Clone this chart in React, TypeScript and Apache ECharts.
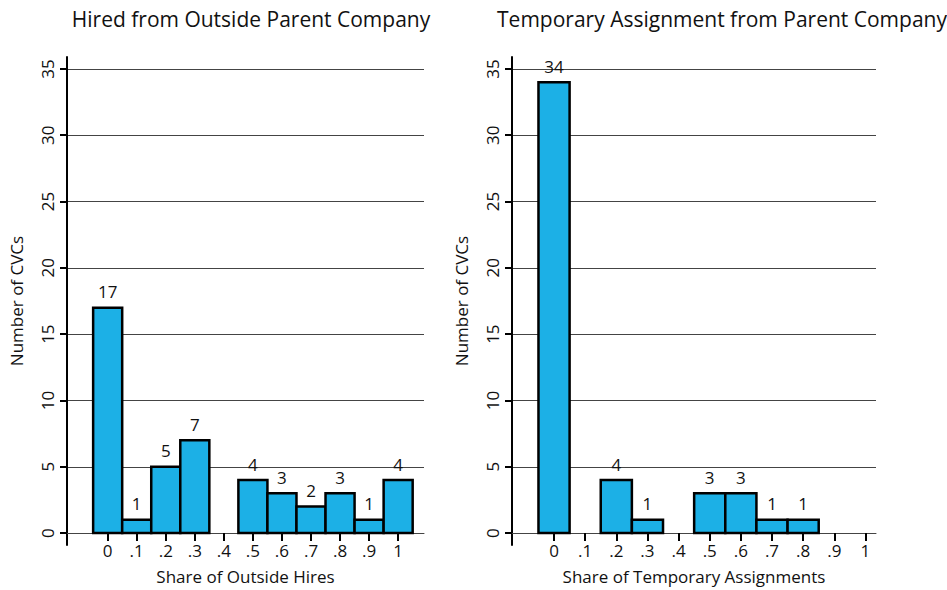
import React, { useEffect, useRef } from "react";
import * as echarts from "echarts";

const leftTitle = "Hired from Outside Parent Company";
const rightTitle = "Temporary Assignment from Parent Company";
const leftXName = "Share of Outside Hires";
const rightXName = "Share of Temporary Assignments";
const yName = "Number of CVCs";

const leftBins = [0, 0.1, 0.2, 0.3, 0.5, 0.6, 0.7, 0.8, 0.9, 1];
const leftCounts = [17, 1, 5, 7, 4, 3, 2, 3, 1, 4];
const rightBins = [0, 0.2, 0.3, 0.5, 0.6, 0.7, 0.8];
const rightCounts = [34, 4, 1, 3, 3, 1, 1];

const yTicks = [0, 5, 10, 15, 20, 25, 30, 35];
const xTicks = [0, 0.1, 0.2, 0.3, 0.4, 0.5, 0.6, 0.7, 0.8, 0.9, 1];
const binWidth = 0.1;

const FONT = "Open Sans";
const TEXT = "#111";
const BAR = "#1cb0e6";
const FS = 17;

function fmtX(v: number) {
  if (Math.abs(v) < 1e-9) return "0";
  if (Math.abs(v - 1) < 1e-9) return "1";
  return "." + Math.round(v * 10);
}

function renderBar(params: any, api: any) {
  const x = api.value(0);
  const y = api.value(1);
  const p0 = api.coord([x - binWidth / 2, y]);
  const p1 = api.coord([x + binWidth / 2, 0]);
  return {
    type: "group",
    children: [
      {
        type: "rect",
        shape: { x: p0[0], y: p0[1], width: p1[0] - p0[0], height: p1[1] - p0[1] },
        style: { fill: BAR, stroke: "#000", lineWidth: 2.5 },
      },
      {
        type: "text",
        style: {
          text: String(y),
          x: (p0[0] + p1[0]) / 2,
          y: p0[1] - 16,
          align: "center",
          verticalAlign: "middle",
          fill: TEXT,
          fontSize: FS,
          fontFamily: FONT,
        },
      },
    ],
  };
}

function makeX(gridIndex: number, min: number, max: number, name: string) {
  return {
    type: "value",
    gridIndex,
    min,
    max,
    name,
    nameLocation: "middle",
    nameGap: 23,
    nameMoveOverlap: false,
    nameTextStyle: { fontSize: FS, color: TEXT, fontFamily: FONT },
    axisLine: { show: true, onZero: true, lineStyle: { color: "#444", width: 1 } },
    axisTick: { show: true, length: 8, customValues: xTicks, lineStyle: { color: "#000", width: 2 } },
    axisLabel: {
      customValues: xTicks,
      formatter: (v: number) => fmtX(v),
      fontSize: FS,
      color: TEXT,
      fontFamily: FONT,
      margin: -3,
    },
    splitLine: { show: false },
  };
}

function makeY(gridIndex: number) {
  return {
    type: "value",
    gridIndex,
    min: -0.9,
    max: 35.9,
    name: yName,
    nameLocation: "middle",
    nameGap: 42,
    nameMoveOverlap: false,
    nameRotate: 90,
    nameTextStyle: { fontSize: FS, color: TEXT, fontFamily: FONT },
    axisLine: { show: true, onZero: false, lineStyle: { color: "#000", width: 2 } },
    axisTick: { show: true, length: 7, customValues: yTicks, lineStyle: { color: "#000", width: 2 } },
    axisLabel: {
      customValues: yTicks,
      rotate: 90,
      fontSize: FS,
      color: TEXT,
      fontFamily: FONT,
      margin: 11,
    },
    splitLine: { show: true, lineStyle: { color: "#444", width: 1 } },
  };
}

export default function App() {
  const ref = useRef<HTMLDivElement>(null);
  useEffect(() => {
    if (!ref.current) return;
    const chart = echarts.init(ref.current, null, { renderer: "svg" });
    chart.setOption({
      animation: false,
      backgroundColor: "#fff",
      title: [
        {
          text: leftTitle,
          left: 246,
          top: 3,
          textAlign: "center",
          textStyle: { fontSize: 21, fontWeight: "normal", color: TEXT, fontFamily: FONT },
        },
        {
          text: rightTitle,
          left: 717,
          top: 3,
          textAlign: "center",
          textStyle: { fontSize: 21, fontWeight: "normal", color: TEXT, fontFamily: FONT },
        },
      ],
      grid: [
        { left: 67, top: 57, width: 357, height: 488, outerBoundsMode: "none", containLabel: false },
        { left: 512, top: 57, width: 364, height: 488, outerBoundsMode: "none", containLabel: false },
      ],
      xAxis: [makeX(0, -0.14, 1.089, leftXName), makeX(1, -0.135, 1.034, rightXName)],
      yAxis: [makeY(0), makeY(1)],
      series: [
        {
          type: "custom",
          xAxisIndex: 0,
          yAxisIndex: 0,
          renderItem: renderBar,
          encode: { x: 0, y: 1 },
          data: leftBins.map((b, i) => [b, leftCounts[i]]),
        },
        {
          type: "custom",
          xAxisIndex: 1,
          yAxisIndex: 1,
          renderItem: renderBar,
          encode: { x: 0, y: 1 },
          data: rightBins.map((b, i) => [b, rightCounts[i]]),
        },
      ],
    });
    return () => chart.dispose();
  }, []);
  return (
    <div
      ref={ref}
      style={{ position: "fixed", left: 0, top: 0, width: 947, height: 590 }}
    />
  );
}
